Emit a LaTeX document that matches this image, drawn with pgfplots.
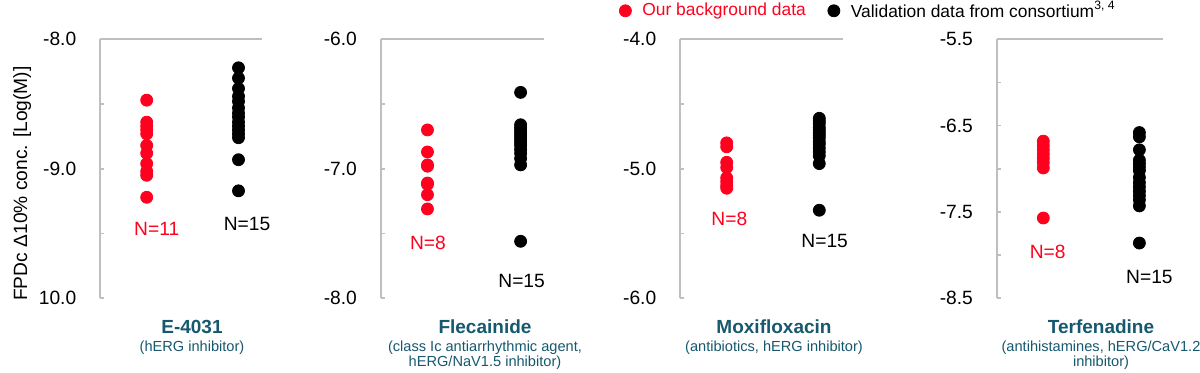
\documentclass[border=0pt]{standalone}
\usepackage{pgfplots}
\pgfplotsset{compat=1.18}
\usepackage{fontspec}
\setmainfont{Liberation Sans}
\definecolor{myred}{RGB}{255,0,30}
\definecolor{tealt}{RGB}{22,88,110}
\definecolor{axgray}{RGB}{191,191,191}
\pgfplotsset{
 panel/.style={
  scale only axis, anchor=south west, height=129.5pt,
  axis x line*=top, axis y line*=left,
  axis line style={axgray, line width=0.8pt},
  xtick=\empty, xmin=0,
  tick align=inside, major tick length=2pt,
  ytick style={axgray, line width=0.8pt},
  yticklabel style={inner sep=0pt, xshift=-11.7pt, font=\fontsize{9.6}{11}\selectfont},
  clip=false,
 },
 red pts/.style={only marks, mark=*, mark size=3pt, color=myred, mark options={draw=myred, fill=myred},
   legend image code/.code={\draw[##1] plot coordinates {(0pt,0pt)};}},
 blk pts/.style={only marks, mark=*, mark size=3pt, color=black, mark options={draw=black, fill=black},
   legend image code/.code={\draw[##1] plot coordinates {(0pt,0pt)};}},
}
\tikzset{nlab/.style={font=\fontsize{9.6}{11}\selectfont, anchor=center, inner sep=0pt}}
\begin{document}
\begin{tikzpicture}
\path[use as bounding box] (0,0) rectangle (600pt,186.5pt);
% Panel 1: E-4031
\begin{axis}[panel, at={(50pt,37.35pt)}, width=81pt, xmax=162,
  ymin=-10, ymax=-8, ytick={-10,-9.5,-9,-8.5,-8}, yticklabels={10.0,,-9.0,,-8.0},
  ylabel={FPDc Δ10\% conc. [Log(M)]},
  ylabel style={at={(axis description cs:-0.481,0.443)}, anchor=center, font=\fontsize{9.6}{11}\selectfont}]
\addplot[red pts] coordinates {(46.7,-8.47) (46.7,-8.64) (46.7,-8.67) (46.7,-8.70) (46.7,-8.73) (46.7,-8.82) (46.7,-8.88) (46.7,-8.96) (46.7,-9.02) (46.7,-9.05) (46.7,-9.22)};
\addplot[blk pts] coordinates {(138.5,-8.22) (138.5,-8.30) (138.5,-8.38) (138.5,-8.44) (138.5,-8.48) (138.5,-8.53) (138.5,-8.57) (138.5,-8.60) (138.5,-8.64) (138.5,-8.67) (138.5,-8.70) (138.5,-8.73) (138.5,-8.76) (138.5,-8.93) (138.5,-9.17)};
\node[nlab, myred] at (axis cs:56.7,-9.467) {N=11};
\node[nlab] at (axis cs:147,-9.426) {N=15};
\end{axis}
% Panel 2: Flecainide
\begin{axis}[panel, at={(190.35pt,37.35pt)}, width=81.6pt, xmax=163.3,
  ymin=-8, ymax=-6, ytick={-8,-7.5,-7,-6.5,-6}, yticklabels={-8.0,,-7.0,,-6.0}]
\addplot[red pts] coordinates {(46.8,-6.70) (46.8,-6.87) (46.8,-6.97) (46.8,-6.98) (46.8,-7.11) (46.8,-7.12) (46.8,-7.20) (46.8,-7.31)};
\addplot[blk pts] coordinates {(140,-6.41) (140,-6.66) (140,-6.68) (140,-6.70) (140,-6.72) (140,-6.74) (140,-6.76) (140,-6.78) (140,-6.80) (140,-6.82) (140,-6.85) (140,-6.88) (140,-6.92) (140,-6.97) (140,-7.56)};
\node[nlab, myred] at (axis cs:47.3,-7.571) {N=8};
\node[nlab] at (axis cs:141,-7.864) {N=15};
\end{axis}
% Panel 3: Moxifloxacin
\begin{axis}[panel, at={(340pt,37.35pt)}, width=81.5pt, xmax=163,
  ymin=-6, ymax=-4, ytick={-6,-5.5,-5,-4.5,-4}, yticklabels={-6.0,,-5.0,,-4.0},
  legend columns=2, legend cell align=left,
  legend style={at={(axis description cs:-0.3742,1.11)}, anchor=west, draw=none, fill=none,
    inner sep=0pt, font=\fontsize{8.7}{10}\selectfont, nodes={inner sep=0pt},
    /tikz/every odd column/.append style={column sep=5.5pt},
    /tikz/every even column/.append style={column sep=11pt}}]
\addplot[red pts] coordinates {(46.7,-4.80) (46.7,-4.83) (46.7,-4.95) (46.7,-4.99) (46.7,-5.07) (46.7,-5.10) (46.7,-5.13) (46.7,-5.15)};
\addlegendentry{\textcolor{myred}{Our background data}}
\addplot[blk pts] coordinates {(139.3,-4.61) (139.3,-4.63) (139.3,-4.65) (139.3,-4.68) (139.3,-4.70) (139.3,-4.72) (139.3,-4.74) (139.3,-4.76) (139.3,-4.79) (139.3,-4.81) (139.3,-4.84) (139.3,-4.87) (139.3,-4.90) (139.3,-4.96) (139.3,-5.32)};
\addlegendentry{Validation data from consortium\textsuperscript{3, 4}}
\node[nlab, myred] at (axis cs:49.3,-5.388) {N=8};
\node[nlab] at (axis cs:144.7,-5.555) {N=15};
\end{axis}
% Panel 4: Terfenadine
\begin{axis}[panel, at={(498.35pt,37.35pt)}, width=83.2pt, xmax=166.3,
  ymin=-8.5, ymax=-5.5, ytick={-8.5,-8,-7.5,-7,-6.5,-6,-5.5}, yticklabels={-8.5,,-7.5,,-6.5,,-5.5}]
\addplot[red pts] coordinates {(46.6,-6.68) (46.6,-6.73) (46.6,-6.78) (46.6,-6.83) (46.6,-6.88) (46.6,-6.93) (46.6,-6.99) (46.6,-7.57)};
\addplot[blk pts] coordinates {(142.6,-6.58) (142.6,-6.63) (142.6,-6.78) (142.6,-6.90) (142.6,-6.94) (142.6,-6.98) (142.6,-7.02) (142.6,-7.10) (142.6,-7.16) (142.6,-7.21) (142.6,-7.26) (142.6,-7.31) (142.6,-7.36) (142.6,-7.43) (142.6,-7.86)};
\node[nlab, myred] at (axis cs:51,-7.960) {N=8};
\node[nlab] at (axis cs:152.6,-8.257) {N=15};
\end{axis}
% Titles
\tikzset{ttl/.style={anchor=base, inner sep=0pt, text=tealt, font=\fontsize{9.5}{11}\selectfont\bfseries},
         sub/.style={anchor=base, inner sep=0pt, text=tealt, font=\fontsize{7.3}{7.6}\selectfont}}
\node[ttl] at (96pt,19.75pt) {E-4031};
\node[sub] at (96pt,10.5pt) {(hERG inhibitor)};
\node[ttl] at (242.5pt,19.75pt) {Flecainide};
\node[sub] at (242.5pt,10.5pt) {(class Ic antiarrhythmic agent,};
\node[sub] at (242.5pt,3.25pt) {hERG/NaV1.5 inhibitor)};
\node[ttl] at (387pt,19.75pt) {Moxifloxacin};
\node[sub] at (387pt,10.5pt) {(antibiotics, hERG inhibitor)};
\node[ttl] at (550.5pt,19.75pt) {Terfenadine};
\node[sub] at (550.5pt,10.5pt) {(antihistamines, hERG/CaV1.2};
\node[sub] at (550.5pt,3.25pt) {inhibitor)};
\end{tikzpicture}
\end{document}
